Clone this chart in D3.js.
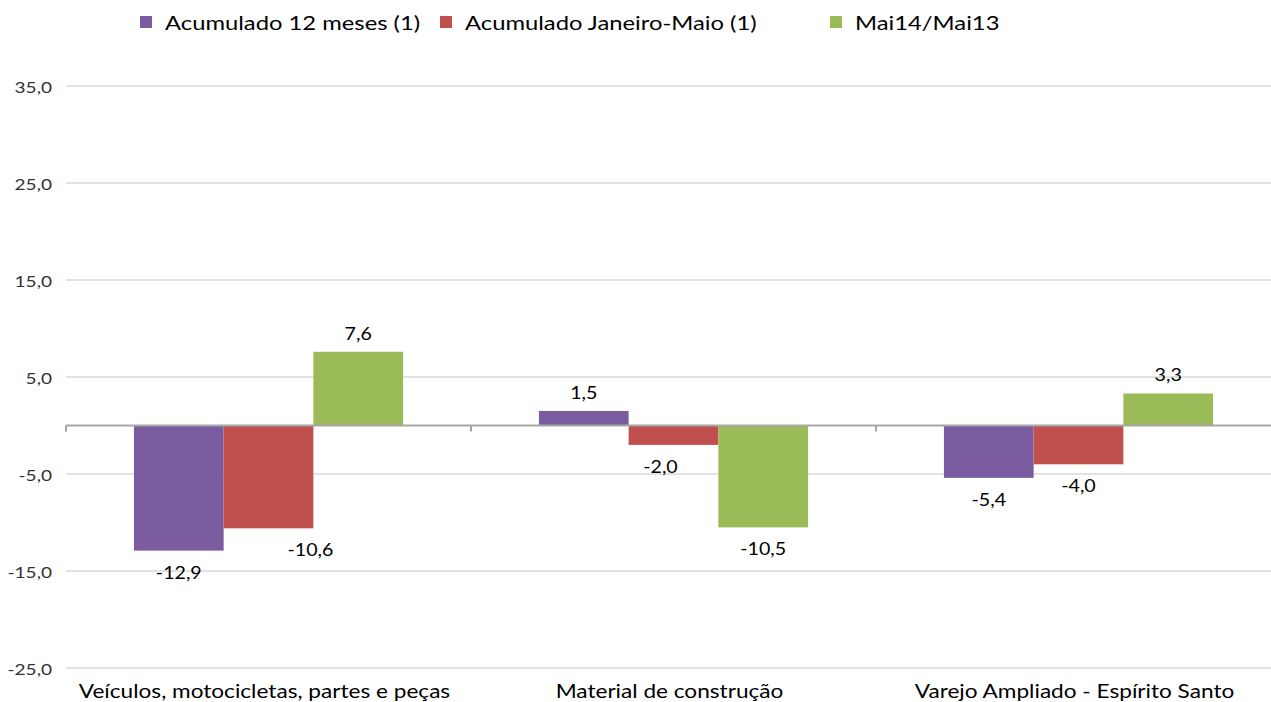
<!DOCTYPE html>
<html><head><meta charset="utf-8">
<script src="https://cdn.jsdelivr.net/npm/d3@7"></script>
<style>body{margin:0;background:#fff}svg{display:block}text{font-family:Lato,"Open Sans",sans-serif;fill:#000}</style>
</head><body>
<svg id="c" width="1271" height="702"></svg>
<script>
const categories = ["Veículos, motocicletas, partes e peças", "Material de construção", "Varejo Ampliado - Espírito Santo"];
const seriesNames = ["Acumulado 12 meses (1)", "Acumulado Janeiro-Maio (1)", "Mai14/Mai13"];
const acum12 = [-12.9, 1.5, -5.4];
const acumJanMai = [-10.6, -2.0, -4.0];
const mai14 = [7.6, -10.5, 3.3];
const yTicks = [-25, -15, -5, 5, 15, 25, 35];
const colors = ["#7B5CA0", "#C0504D", "#9BBB59"];
const labelDx = [[0, 42, 0], [0, -13, 0], [0, 0, 0]];

(function () {
const seriesValues = [acum12, acumJanMai, mai14];
const fmt = v => d3.format(".1f")(v).replace(".", ",").replace("−", "-");
const svg = d3.select("#c");
const SX = 1.19;
const pL = 66, pR = 1281, pT = 86, pB = 668;
const y = d3.scaleLinear().domain([-25, 35]).range([pB, pT]);
const x0 = d3.scaleBand().domain(categories).range([pL, pR]).padding(0);
const x1 = d3.scaleBand().domain(seriesNames).range([0, x0.bandwidth()]).paddingInner(0).paddingOuter(0.757);

function txt(x, yy, s, size, anchor, color) {
  return svg.append("text")
    .attr("transform", `translate(${x},${yy}) scale(${SX},1)`)
    .attr("text-anchor", anchor).attr("font-size", size)
    .style("fill", color || "#000").text(s);
}

svg.append("g").selectAll("line").data(yTicks).join("line")
  .attr("x1", pL).attr("x2", 1271).attr("y1", d => y(d)).attr("y2", d => y(d))
  .attr("stroke", "#D9D9D9").attr("stroke-width", 1.3);
yTicks.forEach(d => txt(52, y(d) + 6.5, fmt(d), 16, "end", "#333"));

categories.forEach((c, ci) => {
  seriesNames.forEach((s, si) => {
    const v = seriesValues[si][ci];
    svg.append("rect").attr("x", x0(c) + x1(s)).attr("width", x1.bandwidth())
      .attr("y", y(Math.max(0, v))).attr("height", Math.abs(y(v) - y(0)))
      .attr("fill", colors[si]);
    const cx = x0(c) + x1(s) + x1.bandwidth() / 2 + labelDx[ci][si];
    txt(cx, v >= 0 ? y(v) - 12 : y(v) + 28, fmt(v), 16.5, "middle");
  });
});

svg.append("line").attr("x1", pL).attr("x2", 1271).attr("y1", y(0)).attr("y2", y(0))
  .attr("stroke", "#A6A6A6").attr("stroke-width", 2);
const tickXs = categories.map(c => x0(c));
svg.append("g").selectAll("line").data(tickXs).join("line")
  .attr("x1", d => d).attr("x2", d => d).attr("y1", y(0)).attr("y2", y(0) + 6)
  .attr("stroke", "#A6A6A6").attr("stroke-width", 2);

categories.forEach(d => txt(x0(d) + x0.bandwidth() / 2 - 4, 698, d, 19, "middle"));

const legX = [140, 440, 830];
seriesNames.forEach((s, i) => {
  svg.append("rect").attr("x", legX[i]).attr("y", 16).attr("width", 12).attr("height", 12).attr("fill", colors[i]);
  txt(legX[i] + 25, 30, s, 20, "start");
});
})();
</script>
</body></html>
